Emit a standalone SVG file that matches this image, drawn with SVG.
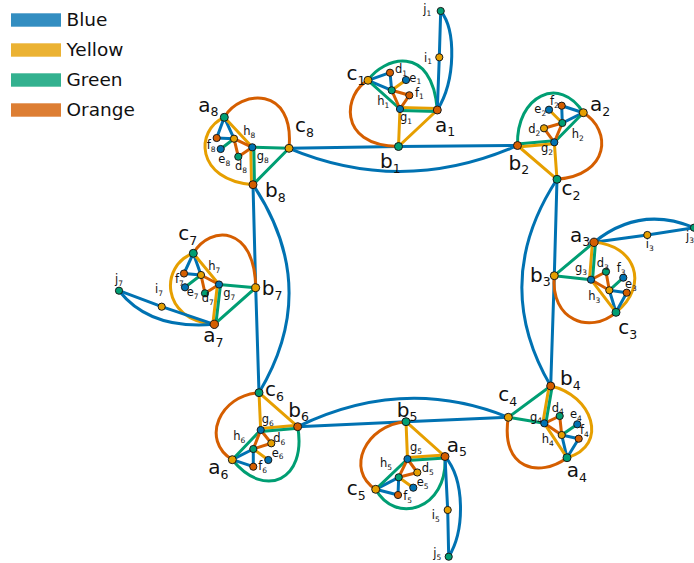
<svg xmlns="http://www.w3.org/2000/svg" width="694" height="563" viewBox="0 0 694 563">
<style>
  .e{fill:none;stroke-width:3;stroke-linecap:round}
  .B{stroke:#0072B2}.Y{stroke:#E69F00}.G{stroke:#009E73}.O{stroke:#D55E00}
  circle{stroke:#1a1a1a;stroke-width:1}
  .nB{fill:#0072B2}.nY{fill:#E69F00}.nG{fill:#009E73}.nO{fill:#D55E00}
  text{font-family:"DejaVu Sans",Verdana,sans-serif;fill:#111}
  .m{font-size:20px}.ms{font-size:12.5px}
  .s{font-size:11.5px}.ss{font-size:7.5px}
  .lg{font-size:18.5px}
  .key{fill-opacity:0.8}
</style>

<!-- legend -->
<g id="legend">
  <rect class="key" x="11" y="13.3" width="50" height="13.4" fill="#0072B2"/>
  <text class="lg" x="66.5" y="26">Blue</text>
  <rect class="key" x="11" y="43.3" width="50" height="13.4" fill="#E69F00"/>
  <text class="lg" x="66.5" y="56">Yellow</text>
  <rect class="key" x="11" y="73.3" width="50" height="13.4" fill="#009E73"/>
  <text class="lg" x="66.5" y="86">Green</text>
  <rect class="key" x="11" y="103.3" width="50" height="13.4" fill="#D55E00"/>
  <text class="lg" x="66.5" y="116">Orange</text>
</g>

<g id="connectors">
  <!-- links between gadgets -->
  <path class="e B" d="M289,148.3 L398.5,146.5"/>
  <path class="e B" d="M398.5,146.5 L517.5,145.5"/>
  <path class="e B" d="M289,148.3 Q403,196 517.5,145.5"/>
  <path class="e B" d="M557,179.3 L554.3,275.7"/>
  <path class="e B" d="M554.3,275.7 L550.7,386"/>
  <path class="e B" d="M557,179.3 Q490,282 550.7,386"/>
  <path class="e B" d="M508.3,417.3 L406,421.7"/>
  <path class="e B" d="M406,421.7 L297.7,426.7"/>
  <path class="e B" d="M508.3,417.3 Q404,375 297.7,426.7"/>
  <path class="e B" d="M259,392.7 L255.7,287.7"/>
  <path class="e B" d="M255.7,287.7 L253,184.7"/>
  <path class="e B" d="M259,392.7 Q322,288 253,184.7"/>

  <!-- gadget 1 -->
  <path class="e G" d="M368,80.3 C383,58 432,42 437.3,110"/>
  <path class="e O" d="M368,80.3 C345,92 335,145 398.5,146.5"/>
  <path class="e B" d="M440.7,11 C456,30 456,80 437.3,110"/>
  <path class="e B" d="M437.3,110 L439.3,57.3 L440.7,11"/>
  <path class="e B" d="M368,80.3 L390,72.7"/>
  <path class="e B" d="M368,80.3 L391.7,90.3"/>
  <path class="e B" d="M390,72.7 L391.7,90.3"/>
  <path class="e G" d="M368,80.3 L400,109"/>
  <path class="e Y" d="M391.7,90.3 L406,80"/>
  <path class="e O" d="M391.7,90.3 L409.3,95.3"/>
  <path class="e O" d="M391.7,90.3 L400,109"/>
  <path class="e O" d="M409.3,95.3 L400,109"/>
  <path class="e Y" d="M400,109 L398.5,146.5"/>
  <path class="e Y" d="M437.3,110 L398.5,146.5"/>
  <path class="e Y" d="M400,107.5 L437.3,108.5"/>
  <path class="e G" d="M400,110.5 L437.3,111.5"/>

  <!-- gadget 2 -->
  <path class="e G" d="M517.5,145.5 C516,95 560,75 583.3,112.7"/>
  <path class="e O" d="M583.3,112.7 C612,130 610,175 557,179.3"/>
  <path class="e B" d="M583.3,112.7 L561.7,105.7"/>
  <path class="e B" d="M583.3,112.7 L562.3,123"/>
  <path class="e B" d="M561.7,105.7 L562.3,123"/>
  <path class="e G" d="M583.3,112.7 L554.3,142.3"/>
  <path class="e Y" d="M562.3,123 L549,109.7"/>
  <path class="e O" d="M562.3,123 L544,128.3"/>
  <path class="e O" d="M562.3,123 L554.3,142.3"/>
  <path class="e O" d="M544,128.3 L554.3,142.3"/>
  <path class="e Y" d="M554.3,142.3 L557,179.3"/>
  <path class="e Y" d="M517.5,145.5 L557,179.3"/>
  <path class="e G" d="M554.2,140.8 L517.4,144"/>
  <path class="e Y" d="M554.4,143.8 L517.6,147"/>

  <!-- gadget 3 -->
  <path class="e B" d="M594,242.3 Q640,205 694,227.7"/>
  <path class="e B" d="M594,242.3 L647.3,235 L694,227.7"/>
  <path class="e Y" d="M594,242.3 C635,245 650,285 616,312.3"/>
  <path class="e O" d="M554.3,275.7 C550,320 590,335 616,312.3"/>
  <path class="e B" d="M616,312.3 L609.3,290.3"/>
  <path class="e B" d="M616,312.3 L626.7,292.7"/>
  <path class="e B" d="M609.3,290.3 L626.7,292.7"/>
  <path class="e Y" d="M616,312.3 L591,279.7"/>
  <path class="e G" d="M609.3,290.3 L623.3,277.7"/>
  <path class="e O" d="M609.3,290.3 L606,271.7"/>
  <path class="e O" d="M609.3,290.3 L591,279.7"/>
  <path class="e O" d="M606,271.7 L591,279.7"/>
  <path class="e G" d="M591,279.7 L554.3,275.7"/>
  <path class="e G" d="M594,242.3 L554.3,275.7"/>
  <path class="e Y" d="M589.5,279.6 L592.5,242.2"/>
  <path class="e G" d="M592.5,279.8 L595.5,242.4"/>

  <!-- gadget 4 -->
  <path class="e Y" d="M550.7,386 C592,395 610,445 567,457.7"/>
  <path class="e O" d="M508.3,417.3 C500,470 540,478 567,457.7"/>
  <path class="e B" d="M567,457.7 L561.7,435"/>
  <path class="e B" d="M567,457.7 L578.7,438.7"/>
  <path class="e B" d="M561.7,435 L578.7,438.7"/>
  <path class="e Y" d="M567,457.7 L544.3,423.3"/>
  <path class="e G" d="M561.7,435 L577.3,424.3"/>
  <path class="e O" d="M561.7,435 L559.7,416"/>
  <path class="e O" d="M561.7,435 L544.3,423.3"/>
  <path class="e O" d="M559.7,416 L544.3,423.3"/>
  <path class="e G" d="M544.3,423.3 L508.3,417.3"/>
  <path class="e G" d="M550.7,386 L508.3,417.3"/>
  <path class="e Y" d="M542.8,423.05 L549.2,385.75"/>
  <path class="e G" d="M545.8,423.55 L552.2,386.25"/>

  <!-- gadget 5 -->
  <path class="e O" d="M406,421.7 C365,425 345,470 375.7,489.3"/>
  <path class="e G" d="M445,456.5 C448,510 395,525 375.7,489.3"/>
  <path class="e B" d="M445,456.5 C465,480 465,530 448.7,556.7"/>
  <path class="e B" d="M445,456.5 L447.7,510 L448.7,556.7"/>
  <path class="e B" d="M375.7,489.3 L398.7,477.3"/>
  <path class="e B" d="M375.7,489.3 L398,495"/>
  <path class="e B" d="M398.7,477.3 L398,495"/>
  <path class="e G" d="M375.7,489.3 L407.5,459"/>
  <path class="e Y" d="M398.7,477.3 L413.3,487.7"/>
  <path class="e O" d="M398.7,477.3 L417.3,472.5"/>
  <path class="e O" d="M398.7,477.3 L407.5,459"/>
  <path class="e O" d="M417.3,472.5 L407.5,459"/>
  <path class="e Y" d="M407.5,459 L406,421.7"/>
  <path class="e Y" d="M406,421.7 L445,456.5"/>
  <path class="e Y" d="M407.4,457.5 L444.9,455"/>
  <path class="e G" d="M407.6,460.5 L445.1,458"/>

  <!-- gadget 6 -->
  <path class="e O" d="M259,392.7 C220,395 200,440 232.3,459.7"/>
  <path class="e G" d="M297.7,426.7 C307,480 265,500 232.3,459.7"/>
  <path class="e B" d="M232.3,459.7 L253.3,449"/>
  <path class="e B" d="M232.3,459.7 L253.3,466.7"/>
  <path class="e B" d="M253.3,449 L253.3,466.7"/>
  <path class="e G" d="M232.3,459.7 L260.7,430"/>
  <path class="e Y" d="M253.3,449 L268.3,460"/>
  <path class="e O" d="M253.3,449 L271.3,443.3"/>
  <path class="e O" d="M253.3,449 L260.7,430"/>
  <path class="e O" d="M271.3,443.3 L260.7,430"/>
  <path class="e Y" d="M260.7,430 L259,392.7"/>
  <path class="e Y" d="M259,392.7 L297.7,426.7"/>
  <path class="e Y" d="M260.6,428.5 L297.6,425.2"/>
  <path class="e G" d="M260.8,431.5 L297.8,428.2"/>

  <!-- gadget 7 -->
  <path class="e O" d="M193.3,253.3 C210,225 255,225 255.7,287.7"/>
  <path class="e Y" d="M193.3,253.3 C160,265 160,320 214.3,324.3"/>
  <path class="e B" d="M119,290.7 Q150,330 214.3,324.3"/>
  <path class="e B" d="M214.3,324.3 L161.7,306.7 L119,290.7"/>
  <path class="e B" d="M193.3,253.3 L184,273.5"/>
  <path class="e B" d="M193.3,253.3 L201,275"/>
  <path class="e B" d="M184,273.5 L201,275"/>
  <path class="e Y" d="M193.3,253.3 L219,284.5"/>
  <path class="e G" d="M201,275 L185,287.3"/>
  <path class="e O" d="M201,275 L205,293.3"/>
  <path class="e O" d="M201,275 L219,284.5"/>
  <path class="e O" d="M205,293.3 L219,284.5"/>
  <path class="e G" d="M219,284.5 L255.7,287.7"/>
  <path class="e G" d="M214.3,324.3 L255.7,287.7"/>
  <path class="e Y" d="M217.5,284.3 L212.8,324.1"/>
  <path class="e G" d="M220.5,284.7 L215.8,324.5"/>

  <!-- gadget 8 -->
  <path class="e O" d="M224.3,117.3 C240,90 295,85 289,148.3"/>
  <path class="e Y" d="M224.3,117.3 C195,130 195,180 253,184.7"/>
  <path class="e B" d="M224.3,117.3 L216.7,138"/>
  <path class="e B" d="M224.3,117.3 L234,138.7"/>
  <path class="e B" d="M216.7,138 L234,138.7"/>
  <path class="e Y" d="M224.3,117.3 L252.3,147.3"/>
  <path class="e G" d="M234,138.7 L220.7,149"/>
  <path class="e O" d="M234,138.7 L238.3,156.7"/>
  <path class="e O" d="M234,138.7 L252.3,147.3"/>
  <path class="e O" d="M238.3,156.7 L252.3,147.3"/>
  <path class="e G" d="M252.3,147.3 L289,148.3"/>
  <path class="e G" d="M253,184.7 L289,148.3"/>
  <path class="e Y" d="M250.8,147.3 L251.5,184.7"/>
  <path class="e G" d="M253.8,147.3 L254.5,184.7"/>
</g>

<!-- gadget 1 nodes -->
<g id="a1"><circle class="nO" cx="437.3" cy="110" r="4"/><text class="m" x="435" y="131.7">a<tspan class="ms" dy="4.5">1</tspan></text></g>
<g id="b1"><circle class="nG" cx="398.5" cy="146.5" r="4"/><text class="m" x="380" y="168">b<tspan class="ms" dy="4.5">1</tspan></text></g>
<g id="c1"><circle class="nY" cx="368" cy="80.3" r="4"/><text class="m" x="346.5" y="80">c<tspan class="ms" dy="4.5">1</tspan></text></g>
<g id="d1"><circle class="nO" cx="390" cy="72.7" r="3.6"/><text class="s" x="395" y="73.3">d<tspan class="ss" dy="2.5">1</tspan></text></g>
<g id="e1"><circle class="nB" cx="406" cy="80" r="3.6"/><text class="s" x="409.3" y="81.7">e<tspan class="ss" dy="2.5">1</tspan></text></g>
<g id="f1"><circle class="nO" cx="409.3" cy="95.3" r="3.6"/><text class="s" x="415" y="96.7">f<tspan class="ss" dy="2.5">1</tspan></text></g>
<g id="g1"><circle class="nB" cx="400" cy="109" r="3.6"/><text class="s" x="400" y="121">g<tspan class="ss" dy="2.5">1</tspan></text></g>
<g id="h1"><circle class="nG" cx="391.7" cy="90.3" r="3.6"/><text class="s" x="377.3" y="105">h<tspan class="ss" dy="2.5">1</tspan></text></g>
<g id="i1"><circle class="nY" cx="439.3" cy="57.3" r="3.6"/><text class="s" x="424" y="61.7">i<tspan class="ss" dy="2.5">1</tspan></text></g>
<g id="j1"><circle class="nG" cx="440.7" cy="11" r="3.6"/><text class="s" x="423.3" y="13">j<tspan class="ss" dy="2.5">1</tspan></text></g>

<!-- gadget 2 nodes -->
<g id="a2"><circle class="nY" cx="583.3" cy="112.7" r="4"/><text class="m" x="590" y="111">a<tspan class="ms" dy="4.5">2</tspan></text></g>
<g id="b2"><circle class="nO" cx="517.5" cy="145.5" r="4"/><text class="m" x="508.5" y="169.5">b<tspan class="ms" dy="4.5">2</tspan></text></g>
<g id="c2"><circle class="nG" cx="557" cy="179.3" r="4"/><text class="m" x="561.5" y="195">c<tspan class="ms" dy="4.5">2</tspan></text></g>
<g id="d2"><circle class="nY" cx="544" cy="128.3" r="3.6"/><text class="s" x="528.3" y="133">d<tspan class="ss" dy="2.5">2</tspan></text></g>
<g id="e2"><circle class="nB" cx="549" cy="109.7" r="3.6"/><text class="s" x="534.3" y="113">e<tspan class="ss" dy="2.5">2</tspan></text></g>
<g id="f2"><circle class="nO" cx="561.7" cy="105.7" r="3.6"/><text class="s" x="550" y="105">f<tspan class="ss" dy="2.5">2</tspan></text></g>
<g id="g2"><circle class="nB" cx="554.3" cy="142.3" r="3.6"/><text class="s" x="541" y="152">g<tspan class="ss" dy="2.5">2</tspan></text></g>
<g id="h2"><circle class="nG" cx="562.3" cy="123" r="3.6"/><text class="s" x="571.7" y="138">h<tspan class="ss" dy="2.5">2</tspan></text></g>

<!-- gadget 3 nodes -->
<g id="a3"><circle class="nO" cx="594" cy="242.3" r="4.2"/><text class="m" x="570" y="241.7">a<tspan class="ms" dy="4.5">3</tspan></text></g>
<g id="b3"><circle class="nY" cx="554.3" cy="275.7" r="4"/><text class="m" x="530" y="281.7">b<tspan class="ms" dy="4.5">3</tspan></text></g>
<g id="c3"><circle class="nG" cx="616" cy="312.3" r="4"/><text class="m" x="618.3" y="334">c<tspan class="ms" dy="4.5">3</tspan></text></g>
<g id="d3"><circle class="nG" cx="606" cy="271.7" r="3.6"/><text class="s" x="596.7" y="267">d<tspan class="ss" dy="2.5">3</tspan></text></g>
<g id="e3"><circle class="nO" cx="626.7" cy="292.7" r="3.6"/><text class="s" x="625" y="288">e<tspan class="ss" dy="2.5">3</tspan></text></g>
<g id="f3"><circle class="nB" cx="623.3" cy="277.7" r="3.6"/><text class="s" x="616.7" y="272">f<tspan class="ss" dy="2.5">3</tspan></text></g>
<g id="g3"><circle class="nB" cx="591" cy="279.7" r="3.6"/><text class="s" x="575" y="272">g<tspan class="ss" dy="2.5">3</tspan></text></g>
<g id="h3"><circle class="nY" cx="609.3" cy="290.3" r="3.6"/><text class="s" x="588.3" y="300">h<tspan class="ss" dy="2.5">3</tspan></text></g>
<g id="i3"><circle class="nY" cx="647.3" cy="235" r="3.6"/><text class="s" x="645.7" y="248">i<tspan class="ss" dy="2.5">3</tspan></text></g>
<g id="j3"><circle class="nG" cx="694" cy="227.7" r="3.6"/><text class="s" x="686" y="240">j<tspan class="ss" dy="2.5">3</tspan></text></g>

<!-- gadget 4 nodes -->
<g id="a4"><circle class="nG" cx="567" cy="457.7" r="4"/><text class="m" x="566.7" y="477">a<tspan class="ms" dy="4.5">4</tspan></text></g>
<g id="b4"><circle class="nO" cx="550.7" cy="386" r="4"/><text class="m" x="560" y="385">b<tspan class="ms" dy="4.5">4</tspan></text></g>
<g id="c4"><circle class="nY" cx="508.3" cy="417.3" r="4"/><text class="m" x="498.3" y="401">c<tspan class="ms" dy="4.5">4</tspan></text></g>
<g id="d4"><circle class="nG" cx="559.7" cy="416" r="3.6"/><text class="s" x="551.7" y="411.7">d<tspan class="ss" dy="2.5">4</tspan></text></g>
<g id="e4"><circle class="nB" cx="577.3" cy="424.3" r="3.6"/><text class="s" x="570" y="418">e<tspan class="ss" dy="2.5">4</tspan></text></g>
<g id="f4"><circle class="nO" cx="578.7" cy="438.7" r="3.6"/><text class="s" x="580" y="434">f<tspan class="ss" dy="2.5">4</tspan></text></g>
<g id="g4"><circle class="nB" cx="544.3" cy="423.3" r="3.6"/><text class="s" x="530" y="420.5">g<tspan class="ss" dy="2.5">4</tspan></text></g>
<g id="h4"><circle class="nY" cx="561.7" cy="435" r="3.6"/><text class="s" x="541.7" y="443">h<tspan class="ss" dy="2.5">4</tspan></text></g>

<!-- gadget 5 nodes -->
<g id="a5"><circle class="nO" cx="445" cy="456.5" r="4"/><text class="m" x="446.7" y="451.5">a<tspan class="ms" dy="4.5">5</tspan></text></g>
<g id="b5"><circle class="nG" cx="406" cy="421.7" r="4"/><text class="m" x="396.7" y="416.5">b<tspan class="ms" dy="4.5">5</tspan></text></g>
<g id="c5"><circle class="nY" cx="375.7" cy="489.3" r="4"/><text class="m" x="346.7" y="495">c<tspan class="ms" dy="4.5">5</tspan></text></g>
<g id="d5"><circle class="nY" cx="417.3" cy="472.5" r="3.6"/><text class="s" x="421.7" y="472">d<tspan class="ss" dy="2.5">5</tspan></text></g>
<g id="e5"><circle class="nB" cx="413.3" cy="487.7" r="3.6"/><text class="s" x="416.7" y="486">e<tspan class="ss" dy="2.5">5</tspan></text></g>
<g id="f5"><circle class="nO" cx="398" cy="495" r="3.6"/><text class="s" x="403.3" y="500">f<tspan class="ss" dy="2.5">5</tspan></text></g>
<g id="g5"><circle class="nB" cx="407.5" cy="459" r="3.6"/><text class="s" x="410" y="451">g<tspan class="ss" dy="2.5">5</tspan></text></g>
<g id="h5"><circle class="nG" cx="398.7" cy="477.3" r="3.6"/><text class="s" x="380" y="467">h<tspan class="ss" dy="2.5">5</tspan></text></g>
<g id="i5"><circle class="nY" cx="447.7" cy="510" r="3.6"/><text class="s" x="431.7" y="519">i<tspan class="ss" dy="2.5">5</tspan></text></g>
<g id="j5"><circle class="nG" cx="448.7" cy="556.7" r="3.6"/><text class="s" x="433.3" y="557">j<tspan class="ss" dy="2.5">5</tspan></text></g>

<!-- gadget 6 nodes -->
<g id="a6"><circle class="nY" cx="232.3" cy="459.7" r="4"/><text class="m" x="208.3" y="474">a<tspan class="ms" dy="4.5">6</tspan></text></g>
<g id="b6"><circle class="nO" cx="297.7" cy="426.7" r="4"/><text class="m" x="288.3" y="416.5">b<tspan class="ms" dy="4.5">6</tspan></text></g>
<g id="c6"><circle class="nG" cx="259" cy="392.7" r="4"/><text class="m" x="265" y="396">c<tspan class="ms" dy="4.5">6</tspan></text></g>
<g id="d6"><circle class="nY" cx="271.3" cy="443.3" r="3.6"/><text class="s" x="273.3" y="442">d<tspan class="ss" dy="2.5">6</tspan></text></g>
<g id="e6"><circle class="nB" cx="268.3" cy="460" r="3.6"/><text class="s" x="271.7" y="456.7">e<tspan class="ss" dy="2.5">6</tspan></text></g>
<g id="f6"><circle class="nO" cx="253.3" cy="466.7" r="3.6"/><text class="s" x="258.3" y="470">f<tspan class="ss" dy="2.5">6</tspan></text></g>
<g id="g6"><circle class="nB" cx="260.7" cy="430" r="3.6"/><text class="s" x="261.7" y="423">g<tspan class="ss" dy="2.5">6</tspan></text></g>
<g id="h6"><circle class="nG" cx="253.3" cy="449" r="3.6"/><text class="s" x="233.3" y="440">h<tspan class="ss" dy="2.5">6</tspan></text></g>

<!-- gadget 7 nodes -->
<g id="a7"><circle class="nO" cx="214.3" cy="324.3" r="4.2"/><text class="m" x="203.3" y="342">a<tspan class="ms" dy="4.5">7</tspan></text></g>
<g id="b7"><circle class="nY" cx="255.7" cy="287.7" r="4"/><text class="m" x="261.7" y="295">b<tspan class="ms" dy="4.5">7</tspan></text></g>
<g id="c7"><circle class="nG" cx="193.3" cy="253.3" r="4"/><text class="m" x="178.3" y="240">c<tspan class="ms" dy="4.5">7</tspan></text></g>
<g id="d7"><circle class="nG" cx="205" cy="293.3" r="3.6"/><text class="s" x="201.7" y="302">d<tspan class="ss" dy="2.5">7</tspan></text></g>
<g id="e7"><circle class="nB" cx="185" cy="287.3" r="3.6"/><text class="s" x="186.7" y="296">e<tspan class="ss" dy="2.5">7</tspan></text></g>
<g id="f7"><circle class="nO" cx="184" cy="273.5" r="3.6"/><text class="s" x="175" y="283">f<tspan class="ss" dy="2.5">7</tspan></text></g>
<g id="g7"><circle class="nB" cx="219" cy="284.5" r="3.6"/><text class="s" x="223.3" y="297">g<tspan class="ss" dy="2.5">7</tspan></text></g>
<g id="h7"><circle class="nY" cx="201" cy="275" r="3.6"/><text class="s" x="208.3" y="270">h<tspan class="ss" dy="2.5">7</tspan></text></g>
<g id="i7"><circle class="nY" cx="161.7" cy="306.7" r="3.6"/><text class="s" x="155" y="293">i<tspan class="ss" dy="2.5">7</tspan></text></g>
<g id="j7"><circle class="nG" cx="119" cy="290.7" r="3.6"/><text class="s" x="115" y="283">j<tspan class="ss" dy="2.5">7</tspan></text></g>

<!-- gadget 8 nodes -->
<g id="a8"><circle class="nG" cx="224.3" cy="117.3" r="4"/><text class="m" x="198.3" y="111.5">a<tspan class="ms" dy="4.5">8</tspan></text></g>
<g id="b8"><circle class="nO" cx="253" cy="184.7" r="4"/><text class="m" x="265" y="197">b<tspan class="ms" dy="4.5">8</tspan></text></g>
<g id="c8"><circle class="nY" cx="289" cy="148.3" r="4"/><text class="m" x="295" y="132">c<tspan class="ms" dy="4.5">8</tspan></text></g>
<g id="d8"><circle class="nG" cx="238.3" cy="156.7" r="3.6"/><text class="s" x="235" y="170">d<tspan class="ss" dy="2.5">8</tspan></text></g>
<g id="e8"><circle class="nB" cx="220.7" cy="149" r="3.6"/><text class="s" x="218.3" y="163">e<tspan class="ss" dy="2.5">8</tspan></text></g>
<g id="f8"><circle class="nO" cx="216.7" cy="138" r="3.6"/><text class="s" x="206.7" y="149">f<tspan class="ss" dy="2.5">8</tspan></text></g>
<g id="g8"><circle class="nB" cx="252.3" cy="147.3" r="3.6"/><text class="s" x="256.7" y="160">g<tspan class="ss" dy="2.5">8</tspan></text></g>
<g id="h8"><circle class="nY" cx="234" cy="138.7" r="3.6"/><text class="s" x="243.3" y="135">h<tspan class="ss" dy="2.5">8</tspan></text></g>
</svg>
